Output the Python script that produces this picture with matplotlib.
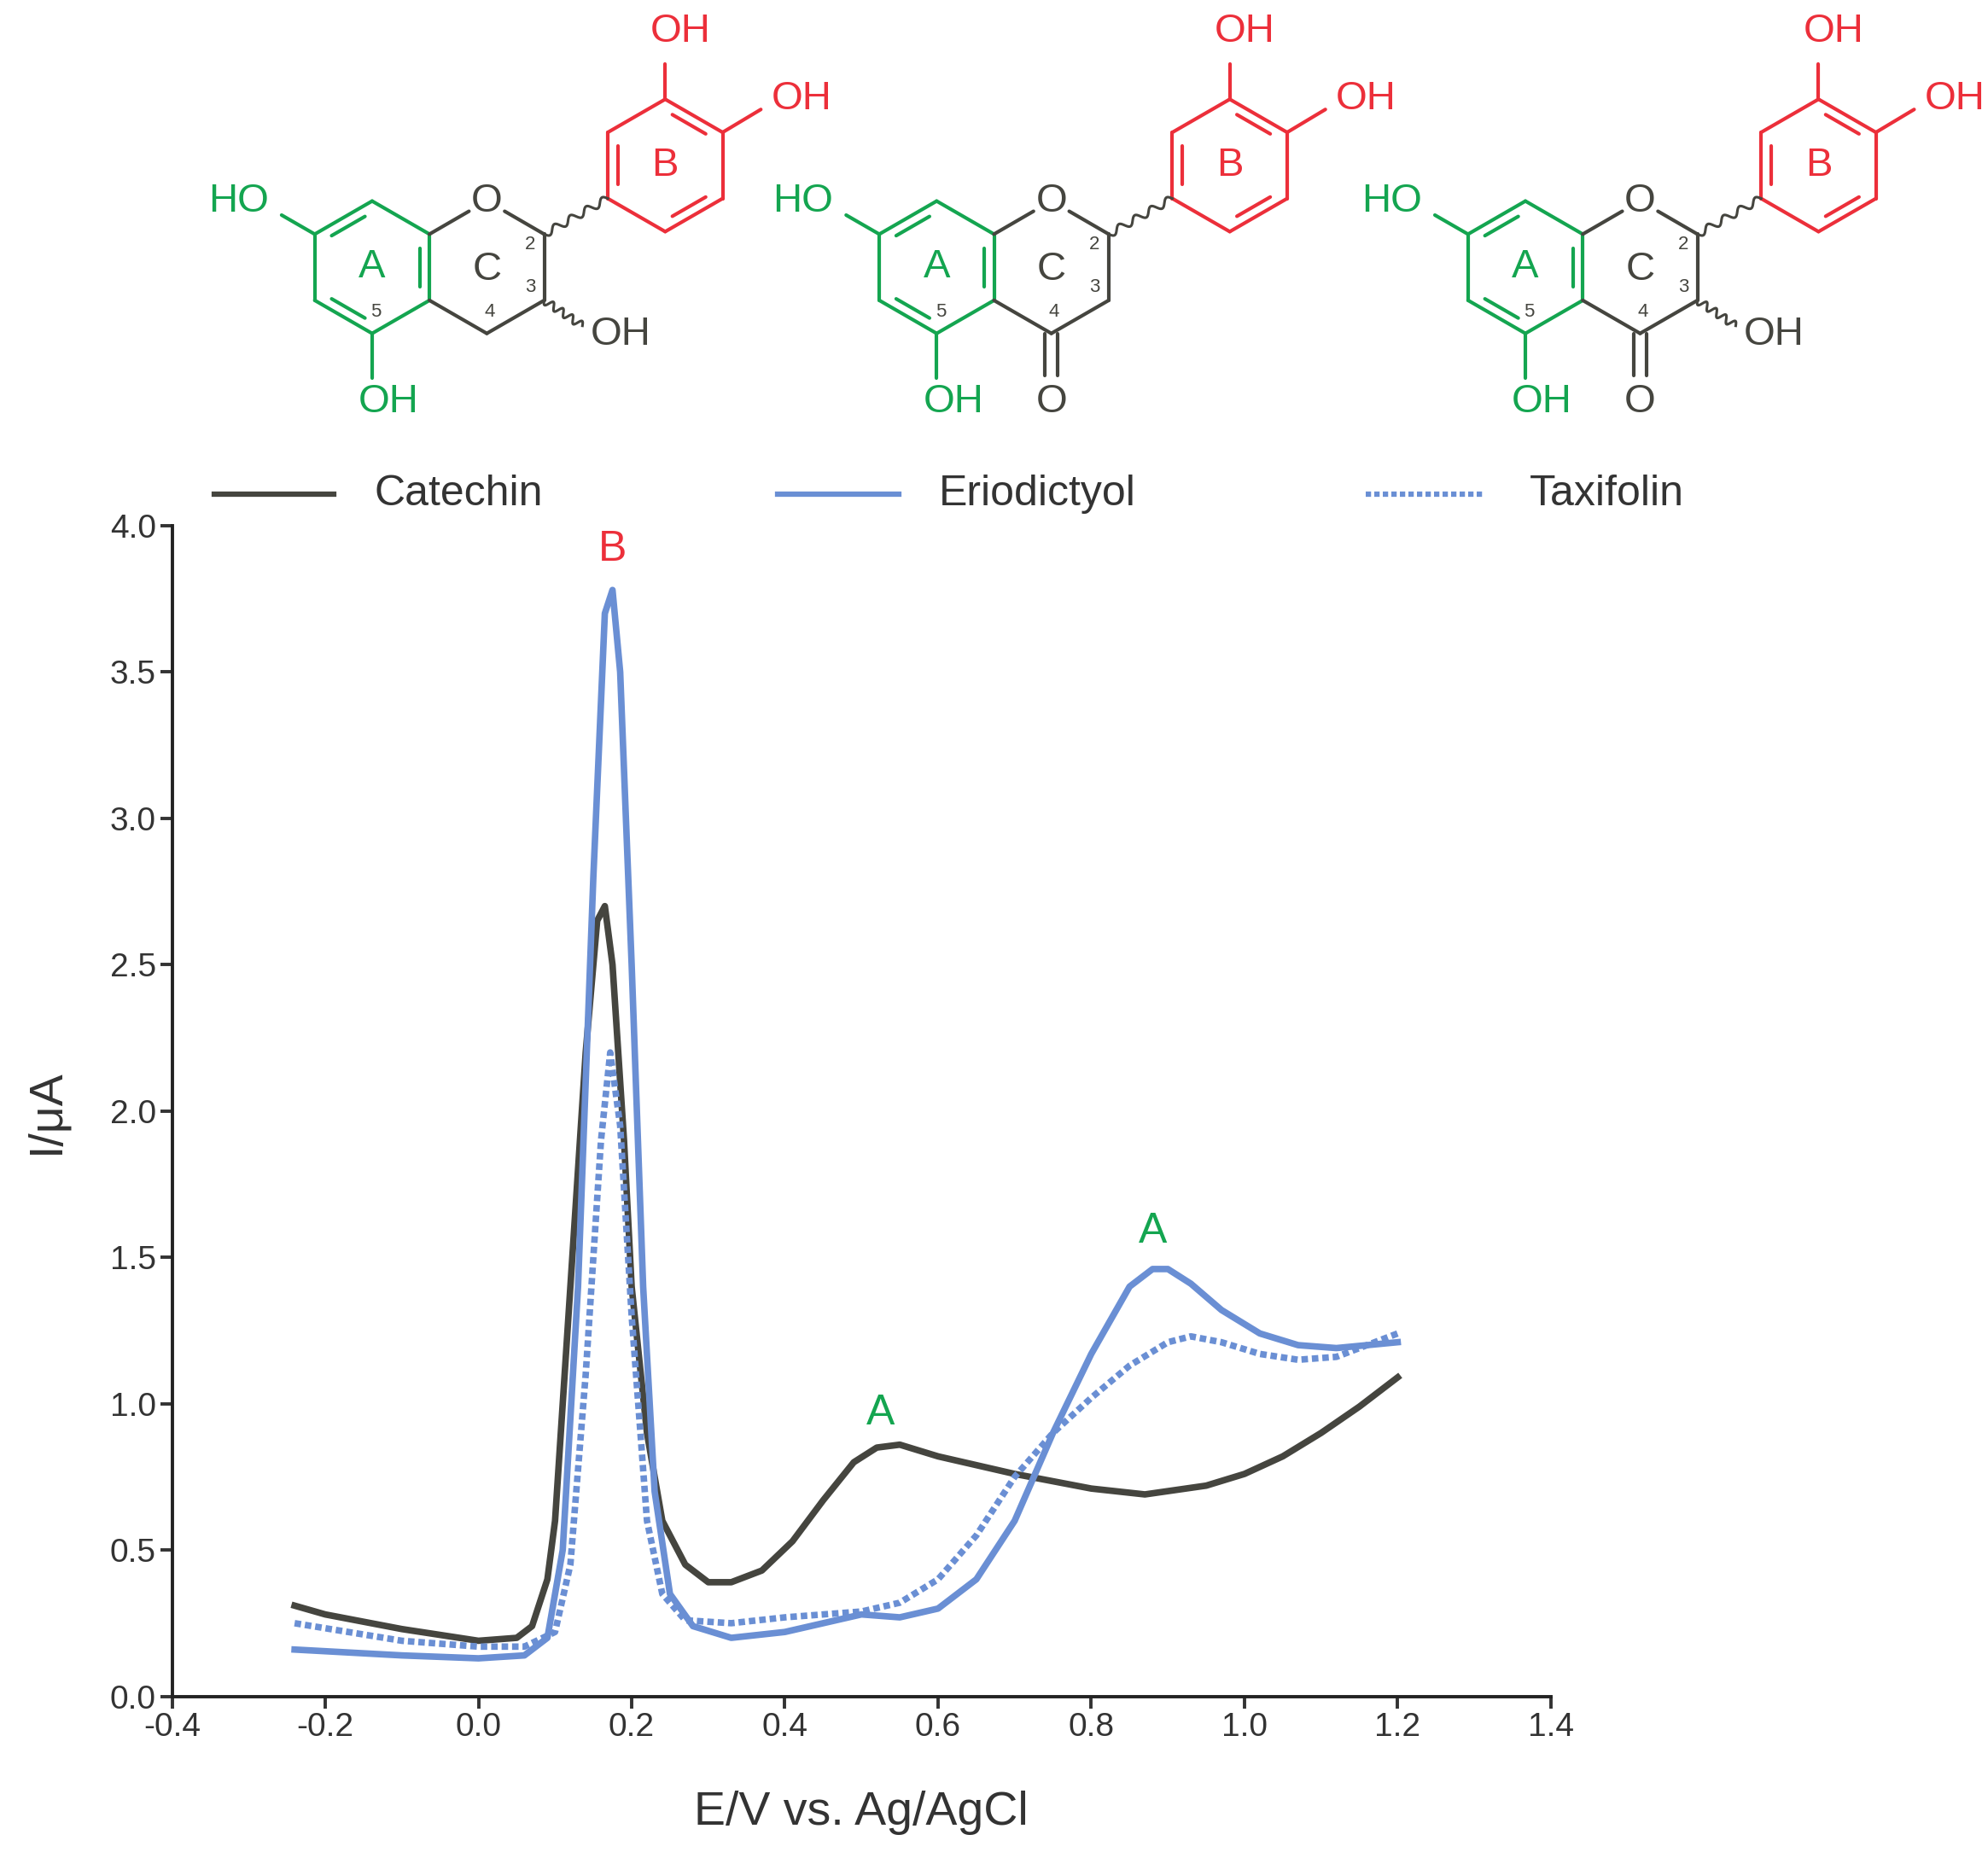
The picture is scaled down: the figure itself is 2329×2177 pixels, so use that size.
import numpy as np
import matplotlib
matplotlib.use("Agg")
import matplotlib.pyplot as plt

plt.rcParams['font.family'] = ['Liberation Sans', 'DejaVu Sans']

cat_x = [-0.24,-0.2,-0.1,0.0,0.05,0.07,0.09,0.1,0.12,0.14,0.155,0.165,0.175,0.19,0.2,0.22,0.24,0.27,0.3,0.33,0.37,0.41,0.45,0.49,0.52,0.55,0.6,0.7,0.8,0.87,0.95,1.0,1.05,1.1,1.15,1.2]
cat_y = [0.31,0.28,0.23,0.19,0.2,0.24,0.4,0.6,1.4,2.2,2.65,2.7,2.5,1.9,1.4,0.9,0.6,0.45,0.39,0.39,0.43,0.53,0.67,0.8,0.85,0.86,0.82,0.76,0.71,0.69,0.72,0.76,0.82,0.9,0.99,1.09]
eri_x = [-0.24,-0.1,0.0,0.06,0.09,0.11,0.13,0.15,0.165,0.175,0.185,0.2,0.215,0.23,0.25,0.28,0.33,0.4,0.45,0.5,0.55,0.6,0.65,0.7,0.75,0.8,0.85,0.88,0.9,0.93,0.97,1.02,1.07,1.12,1.2]
eri_y = [0.16,0.14,0.13,0.14,0.2,0.5,1.4,2.8,3.7,3.78,3.5,2.5,1.4,0.7,0.35,0.24,0.2,0.22,0.25,0.28,0.27,0.3,0.4,0.6,0.9,1.17,1.4,1.46,1.46,1.41,1.32,1.24,1.2,1.19,1.21]
tax_x = [-0.24,-0.1,0.0,0.06,0.1,0.12,0.14,0.16,0.172,0.185,0.2,0.22,0.24,0.27,0.33,0.4,0.5,0.55,0.6,0.65,0.7,0.75,0.8,0.85,0.9,0.93,0.97,1.02,1.07,1.12,1.2]
tax_y = [0.25,0.19,0.17,0.17,0.22,0.45,1.1,1.9,2.2,1.95,1.3,0.6,0.35,0.26,0.25,0.27,0.29,0.32,0.4,0.55,0.75,0.9,1.02,1.13,1.21,1.23,1.21,1.17,1.15,1.16,1.24]
xticks = [-0.4,-0.2,0.0,0.2,0.4,0.6,0.8,1.0,1.2,1.4]
yticks = [0.0,0.5,1.0,1.5,2.0,2.5,3.0,3.5,4.0]

BLK = '#45453f'; BLU = '#6a8fd4'; GRN = '#14a550'; RED = '#ec2f3a'
FS = 34

fig = plt.figure(figsize=(23.29, 21.77), dpi=100)
ax = fig.add_axes([135/1560, 1-1333/1460, (1217-135)/1560, (1333-413)/1460])
ax.plot(cat_x, cat_y, color=BLK, lw=5.5, solid_joinstyle='round')
ax.plot(eri_x, eri_y, color=BLU, lw=5.5, solid_joinstyle='round')
ax.plot(tax_x, tax_y, color=BLU, lw=5.5, ls=(0, (1, 0.6)))
ax.set_xlim(-0.4, 1.4); ax.set_ylim(0, 4.0)
ax.set_xticks(xticks); ax.set_xticklabels([f"{v:.1f}" for v in xticks])
ax.set_yticks(yticks); ax.set_yticklabels([f"{v:.1f}" for v in yticks])
for s in ['top', 'right']: ax.spines[s].set_visible(False)
for s in ['left', 'bottom']: ax.spines[s].set_linewidth(2.8); ax.spines[s].set_color('#222')
ax.tick_params(labelsize=28, width=2.8, length=10, colors='#333')
ax.set_xlabel('E/V vs. Ag/AgCl', fontsize=40, color='#333', labelpad=40)
ax.set_ylabel('I/μA', fontsize=40, color='#333', labelpad=35)
ax.text(0.175, 3.88, 'B', color=RED, fontsize=36, ha='center')
ax.text(0.525, 0.93, 'A', color=GRN, fontsize=36, ha='center')
ax.text(0.88, 1.55, 'A', color=GRN, fontsize=36, ha='center')

ov = fig.add_axes([0, 0, 1, 1], zorder=5)
ov.set_xlim(0, 1560); ov.set_ylim(1460, 0); ov.axis('off'); ov.patch.set_alpha(0)

ov.plot([168, 262], [388, 388], color=BLK, lw=4.5)
ov.text(294, 388, 'Catechin', fontsize=36, va='center', color='#333')
ov.plot([610, 705], [388, 388], color=BLU, lw=4.5)
ov.text(737, 388, 'Eriodictyol', fontsize=36, va='center', color='#333')
ov.plot([1072, 1165], [388, 388], color=BLU, lw=4.5, ls=(0, (1, 0.6)))
ov.text(1200, 388, 'Taxifolin', fontsize=36, va='center', color='#333')

LW = 3.0
def line(p, q, c, lw=LW):
    ov.plot([p[0], q[0]], [p[1], q[1]], color=c, lw=lw, solid_capstyle='round')

def inner(p, q, ctr, c, f=0.17):
    p2 = (p[0] + (ctr[0]-p[0])*f, p[1] + (ctr[1]-p[1])*f)
    q2 = (q[0] + (ctr[0]-q[0])*f, q[1] + (ctr[1]-q[1])*f)
    s = 0.15
    a = (p2[0] + (q2[0]-p2[0])*s, p2[1] + (q2[1]-p2[1])*s)
    b = (q2[0] + (p2[0]-q2[0])*s, q2[1] + (p2[1]-q2[1])*s)
    line(a, b, c)

def wavy(p, q, c):
    t = np.linspace(0, 1, 80)
    dx, dy = q[0]-p[0], q[1]-p[1]
    L = np.hypot(dx, dy); nx, ny = -dy/L, dx/L
    w = 3*np.sin(t*2*np.pi*4)
    ov.plot(p[0]+dx*t+nx*w, p[1]+dy*t+ny*w, color=c, lw=2.2)

def hexv(cx, cy, r=52):
    return [(cx + r*np.cos(np.radians(a)), cy - r*np.sin(np.radians(a))) for a in [90, 30, -30, -90, -150, 150]]

def molecule(ox, kind):
    A = hexv(292+ox, 210); C = hexv(382+ox, 210)
    Bc = (522+ox, 130); B = hexv(*Bc)
    Ac = (292+ox, 210)
    for i in range(6):
        line(A[i], A[(i+1) % 6], GRN)
    for i in [5, 1, 3]:
        inner(A[i], A[(i+1) % 6], Ac, GRN)
    line(C[5], (C[0][0]-14, C[0][1]+8), BLK)
    line((C[0][0]+14, C[0][1]+8), C[1], BLK)
    line(C[1], C[2], BLK); line(C[2], C[3], BLK); line(C[3], C[4], BLK)
    ov.text(C[0][0], C[0][1], 'O', fontsize=FS, ha='center', va='center', color=BLK)
    for i in range(6):
        line(B[i], B[(i+1) % 6], RED)
    for i in [0, 2, 4]:
        inner(B[i], B[(i+1) % 6], Bc, RED)
    wavy(C[1], B[4], BLK)
    line(B[0], (B[0][0], B[0][1]-28), RED)
    ov.text(B[0][0]+12, 25, 'OH', fontsize=FS, ha='center', va='center', color=RED)
    line(B[1], (B[1][0]+30, B[1][1]-18), RED)
    ov.text(B[1][0]+62, 78, 'OH', fontsize=FS, ha='center', va='center', color=RED)
    line(A[5], (A[5][0]-26, A[5][1]-15), GRN)
    ov.text(A[5][0]-60, 158, 'HO', fontsize=FS, ha='center', va='center', color=GRN)
    line(A[3], (A[3][0], A[3][1]+35), GRN)
    ov.text(A[3][0]+13, 316, 'OH', fontsize=FS, ha='center', va='center', color=GRN)
    ov.text(Ac[0], Ac[1], 'A', fontsize=FS, ha='center', va='center', color=GRN)
    ov.text(C[0][0], 212, 'C', fontsize=FS, ha='center', va='center', color=BLK)
    ov.text(Bc[0], Bc[1], 'B', fontsize=FS, ha='center', va='center', color=RED)
    ov.text(A[3][0]+3, 245, '5', fontsize=16, ha='center', va='center', color=BLK)
    ov.text(C[1][0]-11, 192, '2', fontsize=16, ha='center', va='center', color=BLK)
    ov.text(C[2][0]-11, 226, '3', fontsize=16, ha='center', va='center', color=BLK)
    ov.text(C[3][0]+2, 245, '4', fontsize=16, ha='center', va='center', color=BLK)
    if kind in ('cat', 'tax'):
        wavy(C[2], (C[2][0]+30, C[2][1]+20), BLK)
        ov.text(C[2][0]+60, 263, 'OH', fontsize=FS, ha='center', va='center', color=BLK)
    if kind in ('eri', 'tax'):
        line((C[3][0]-5, C[3][1]), (C[3][0]-5, C[3][1]+33), BLK)
        line((C[3][0]+5, C[3][1]), (C[3][0]+5, C[3][1]+33), BLK)
        ov.text(C[3][0], 316, 'O', fontsize=FS, ha='center', va='center', color=BLK)

molecule(0, 'cat')
molecule(443, 'eri')
molecule(905, 'tax')

fig.savefig('out.png', dpi=100)
